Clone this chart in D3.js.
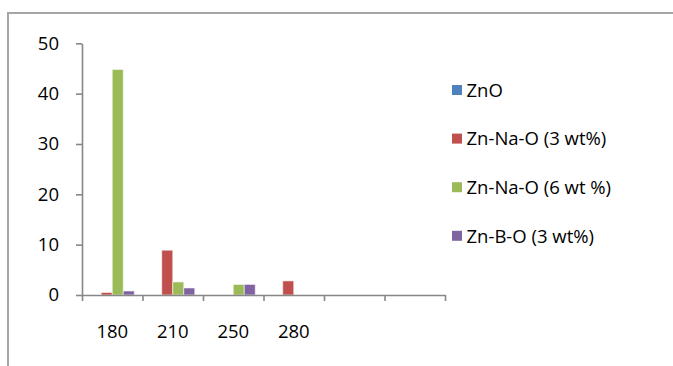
<!DOCTYPE html>
<html>
<head>
<meta charset="utf-8">
<script src="https://cdn.jsdelivr.net/npm/d3@7"></script>
<style>
  html, body { margin: 0; padding: 0; background: #fff; }
  svg { display: block; }
  text { font-family: "Open Sans", "Liberation Sans", sans-serif; fill: #000; }
</style>
</head>
<body>
<svg id="chart" width="673" height="366"></svg>
<script>
// Sample temperatures (x categories); the last two slots are empty
const categories = ["180", "210", "250", "280", "", ""];
const seriesNames = ["ZnO", "Zn-Na-O (3 wt%)", "Zn-Na-O (6 wt %)", "Zn-B-O (3 wt%)"];
const seriesColors = ["#4F81BD", "#C0504D", "#9BBB59", "#8064A2"];
const znO      = [0, 0, 0, 0, 0, 0];
const znNaO3   = [0.5, 8.9, 0, 2.8, 0, 0];
const znNaO6   = [44.8, 2.6, 2.1, 0, 0, 0];
const znBO3    = [0.8, 1.4, 2.1, 0, 0, 0];
const seriesValues = [znO, znNaO3, znNaO6, znBO3];
const yTicks = [0, 10, 20, 30, 40, 50];

const fontSize = 18.5;
const svg = d3.select("#chart");

// Outer frame
svg.append("rect")
  .attr("x", 8).attr("y", 13)
  .attr("width", 700).attr("height", 400)
  .attr("fill", "none")
  .attr("stroke", "#a6a6a6")
  .attr("stroke-width", 2);

const plot = { left: 82, right: 445, top: 43.3, bottom: 295 };

const y = d3.scaleLinear().domain([0, 50]).range([plot.bottom, plot.top]);
const xIdx = d3.scaleLinear().domain([0, categories.length]).range([plot.left, plot.right]);
const x = d3.scaleBand().domain(d3.range(categories.length)).range([plot.left, plot.right]).padding(0);
const step = x.step();
const inner = d3.scaleBand().domain(d3.range(seriesNames.length))
  .range([step * 0.136, step * 0.864]).padding(0);

const axisColor = "#878787";

// Bars
seriesValues.forEach((vals, s) => {
  svg.append("g")
    .selectAll("rect")
    .data(vals.map((v, i) => ({ v, i })).filter(d => d.v > 0))
    .join("rect")
    .attr("x", d => x(d.i) + inner(s))
    .attr("y", d => y(d.v))
    .attr("width", inner.bandwidth())
    .attr("height", d => y(0) - y(d.v))
    .attr("fill", seriesColors[s])
    .attr("stroke", "rgba(255,255,255,0.55)")
    .attr("stroke-width", 1);
});

// Y axis
const yAxis = svg.append("g")
  .attr("transform", `translate(${plot.left},0)`)
  .call(d3.axisLeft(y).tickValues(yTicks).tickSize(6).tickPadding(17).tickSizeOuter(0));
yAxis.select(".domain").attr("stroke", axisColor).attr("stroke-width", 1.6);
yAxis.selectAll(".tick line").attr("stroke", axisColor).attr("stroke-width", 1.6);
yAxis.selectAll(".tick text").attr("font-size", fontSize).attr("font-family", "Open Sans").attr("fill", "#000");

// X axis with ticks at category boundaries
const xAxis = svg.append("g")
  .attr("transform", `translate(0,${plot.bottom})`)
  .call(d3.axisBottom(xIdx).tickValues(d3.range(categories.length + 1)).tickSize(6).tickFormat("").tickSizeOuter(0));
xAxis.select(".domain").attr("stroke", axisColor).attr("stroke-width", 1.6);
xAxis.selectAll(".tick line").attr("stroke", axisColor).attr("stroke-width", 1.6);

// Category labels centred in each slot
svg.append("g")
  .selectAll("text")
  .data(categories)
  .join("text")
  .attr("x", (d, i) => x(i) + step / 2)
  .attr("y", 338)
  .attr("text-anchor", "middle")
  .attr("font-size", fontSize)
  .text(d => d);

// Legend
const legend = svg.append("g");
seriesNames.forEach((name, s) => {
  const top = 85 + s * 48.6;
  legend.append("rect")
    .attr("x", 452).attr("y", top)
    .attr("width", 10).attr("height", 10)
    .attr("fill", seriesColors[s]);
  legend.append("text")
    .attr("x", 466.5).attr("y", top + 11.8)
    .attr("font-size", fontSize)
    .text(name);
});
</script>
</body>
</html>
